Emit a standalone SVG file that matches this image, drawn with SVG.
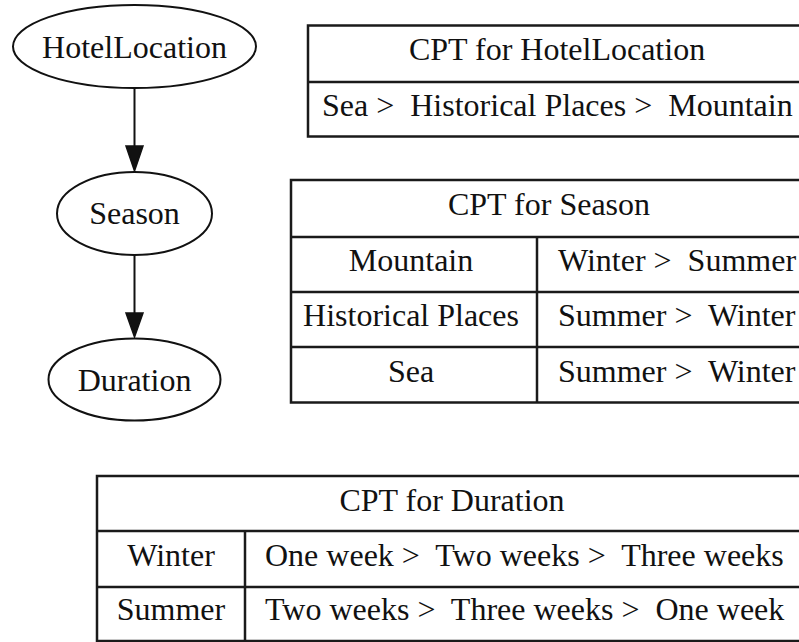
<svg xmlns="http://www.w3.org/2000/svg" width="799" height="642" viewBox="0 0 799 642">
  <style>
    text { font-family: "Liberation Serif", "Times New Roman", serif; font-size: 32px; fill: #111; }
    .mid { text-anchor: middle; }
    .node ellipse { fill: #fff; stroke: #111; stroke-width: 2; }
    .edge { stroke: #111; stroke-width: 2; fill: none; }
    .head { fill: #111; stroke: #111; stroke-width: 1.5; }
    .cpt rect, .cpt line { fill: none; stroke: #1a1a1a; stroke-width: 2.5; }
  </style>
  <rect width="799" height="642" fill="#fff"/>

  <!-- Bayesian network: HotelLocation -> Season -> Duration -->
  <g id="connectors">
    <line class="edge" x1="134.5" y1="88" x2="134.5" y2="146"/>
    <polygon class="head" points="126,146 143,146 134.5,171"/>
    <line class="edge" x1="134.5" y1="255" x2="134.5" y2="313"/>
    <polygon class="head" points="126,313 143,313 134.5,337"/>
  </g>

  <g id="node-hotellocation" class="node">
    <ellipse cx="134.5" cy="46.5" rx="121.5" ry="41.5"/>
    <text class="mid" x="134.5" y="58">HotelLocation</text>
  </g>
  <g id="node-season" class="node">
    <ellipse cx="134.5" cy="213.5" rx="77.5" ry="41.5"/>
    <text class="mid" x="134.5" y="224">Season</text>
  </g>
  <g id="node-duration" class="node">
    <ellipse cx="134.5" cy="379.5" rx="86" ry="41"/>
    <text class="mid" x="134.5" y="391">Duration</text>
  </g>

  <!-- CPT for HotelLocation -->
  <g id="cpt-hotellocation" class="cpt">
    <rect x="308" y="25.5" width="498" height="111"/>
    <line x1="308" y1="82" x2="806" y2="82"/>
    <text class="mid" x="557" y="60">CPT for HotelLocation</text>
    <text x="322" y="116" xml:space="preserve">Sea &gt;  Historical Places &gt;  Mountain</text>
  </g>

  <!-- CPT for Season -->
  <g id="cpt-season" class="cpt">
    <rect x="291" y="180" width="515" height="222.5"/>
    <line x1="291" y1="237" x2="806" y2="237"/>
    <line x1="291" y1="292" x2="806" y2="292"/>
    <line x1="291" y1="347" x2="806" y2="347"/>
    <line x1="537" y1="237" x2="537" y2="402.5"/>
    <text class="mid" x="549" y="215">CPT for Season</text>
    <text class="mid" x="411" y="271">Mountain</text>
    <text class="mid" x="411" y="326">Historical Places</text>
    <text class="mid" x="411" y="382">Sea</text>
    <text x="558" y="271" xml:space="preserve">Winter &gt;  Summer</text>
    <text x="558" y="326" xml:space="preserve">Summer &gt;  Winter</text>
    <text x="558" y="382" xml:space="preserve">Summer &gt;  Winter</text>
  </g>

  <!-- CPT for Duration -->
  <g id="cpt-duration" class="cpt">
    <rect x="97" y="476" width="709" height="165"/>
    <line x1="97" y1="531" x2="806" y2="531"/>
    <line x1="97" y1="587" x2="806" y2="587"/>
    <line x1="245" y1="531" x2="245" y2="641"/>
    <text class="mid" x="452" y="511">CPT for Duration</text>
    <text class="mid" x="171" y="566">Winter</text>
    <text class="mid" x="171" y="620">Summer</text>
    <text x="265" y="566" xml:space="preserve">One week &gt;  Two weeks &gt;  Three weeks</text>
    <text x="265" y="620" xml:space="preserve">Two weeks &gt;  Three weeks &gt;  One week</text>
  </g>
</svg>
